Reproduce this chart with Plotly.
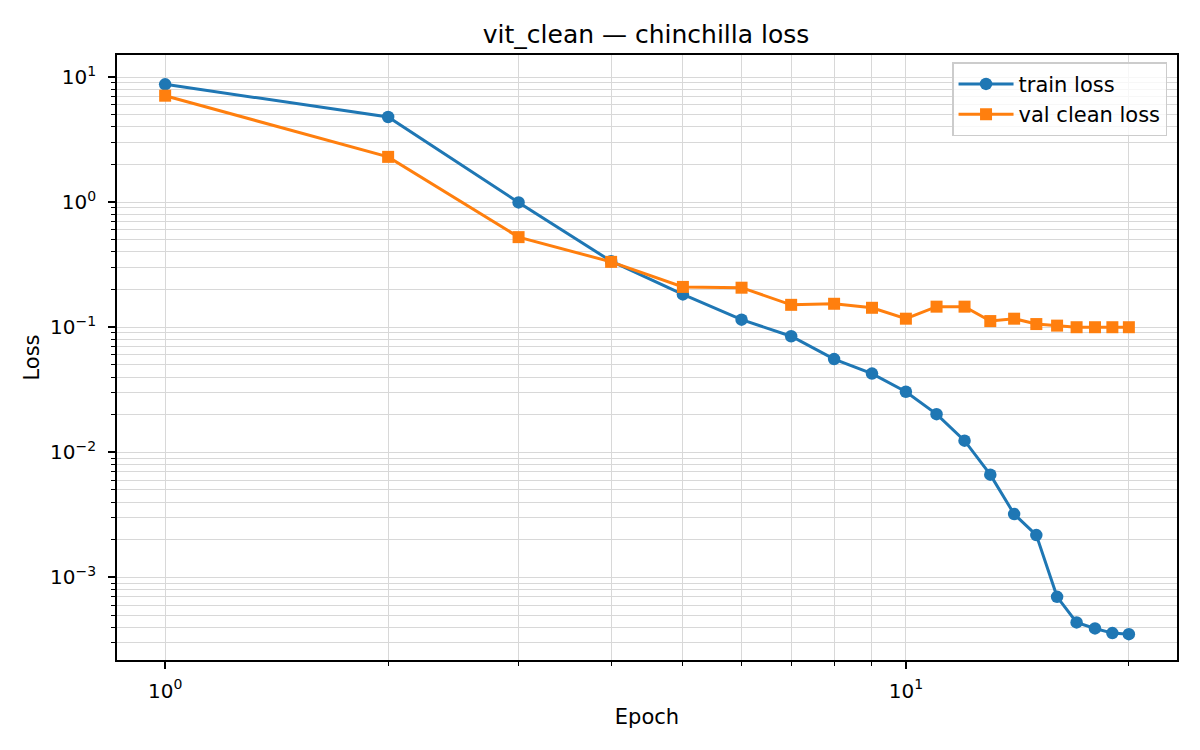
import plotly.graph_objects as go

# values
epochs = list(range(1, 21))
train_loss = [8.74, 4.79, 0.995, 0.337, 0.183, 0.115, 0.0847, 0.0556, 0.0426, 0.0305,
              0.0202, 0.0124, 0.00663, 0.00321, 0.00218, 0.000700, 0.000437, 0.000391,
              0.000359, 0.000352]
val_clean_loss = [7.09, 2.30, 0.525, 0.333, 0.210, 0.207, 0.151, 0.154, 0.143, 0.117,
                  0.146, 0.146, 0.112, 0.117, 0.106, 0.103, 0.100, 0.100, 0.100, 0.100]

x_tickvals = [1, 10]
x_ticktext = ["10<sup>0</sup>", "10<sup>1</sup>"]
y_tickvals = [1e-3, 1e-2, 1e-1, 1, 10]
y_ticktext = ["10<sup>\u22123</sup>", "10<sup>\u22122</sup>", "10<sup>\u22121</sup>",
              "10<sup>0</sup>", "10<sup>1</sup>"]

# minor tick positions for the log axes (2..9 times each decade)
x_minor = [k * 10 ** e for e in range(0, 2) for k in range(2, 10)]
y_minor = [k * 10 ** e for e in range(-4, 2) for k in range(2, 10)]

BLUE = "#1f77b4"
ORANGE = "#ff7f0e"
GRID = "#d8d8d8"
FONT = "DejaVu Sans"

fig = go.Figure()
fig.add_trace(go.Scatter(x=epochs, y=train_loss, mode="lines+markers", name="train loss",
                         legendgroup="train",
                         line=dict(color=BLUE, width=3),
                         marker=dict(symbol="circle", size=12.5, color=BLUE)))
fig.add_trace(go.Scatter(x=epochs, y=val_clean_loss, mode="lines+markers", name="val clean loss",
                         legendgroup="val",
                         line=dict(color=ORANGE, width=3),
                         marker=dict(symbol="square", size=12, color=ORANGE)))

axis_common = dict(
    showline=True, linecolor="black", linewidth=1.6, mirror=True,
    ticks="outside", ticklen=7, tickwidth=1.6, tickcolor="black",
    showgrid=True, gridcolor=GRID, gridwidth=1.4,
    zeroline=False, tickfont=dict(family=FONT, size=20, color="black"),
)
minor_common = dict(tickmode="array", ticks="outside", ticklen=4, tickwidth=1.2,
                    tickcolor="black", showgrid=True, gridcolor=GRID, gridwidth=1.4)

fig.update_layout(
    width=1200, height=750,
    paper_bgcolor="white", plot_bgcolor="white",
    margin=dict(l=109, r=31, t=47, b=98),
    font=dict(family=FONT, size=21, color="black"),
    title=dict(text="vit_clean \u2014 chinchilla loss", x=0.5317, xanchor="center",
               y=0.965, yanchor="middle", font=dict(family=FONT, size=25, color="black")),
    xaxis=dict(type="log", range=[-0.065, 1.366], tickmode="array",
               tickvals=x_tickvals, ticktext=x_ticktext, ticklabelstandoff=5,
               title=dict(text="Epoch", font=dict(family=FONT, size=21), standoff=8),
               minor=dict(tickvals=x_minor, **minor_common),
               **axis_common),
    yaxis=dict(type="log", range=[-3.66, 1.176], tickmode="array",
               tickvals=y_tickvals, ticktext=y_ticktext, ticklabelstandoff=8,
               title=dict(text="Loss", font=dict(family=FONT, size=21), standoff=5),
               minor=dict(tickvals=y_minor, **minor_common),
               **axis_common),
    legend=dict(x=0.9906, y=0.988, xanchor="right", yanchor="top",
                bgcolor="rgba(255,255,255,0.8)", bordercolor="#cccccc", borderwidth=1.5,
                font=dict(family=FONT, size=21), tracegroupgap=0, itemwidth=55),
)

fig.write_html("out.html")
